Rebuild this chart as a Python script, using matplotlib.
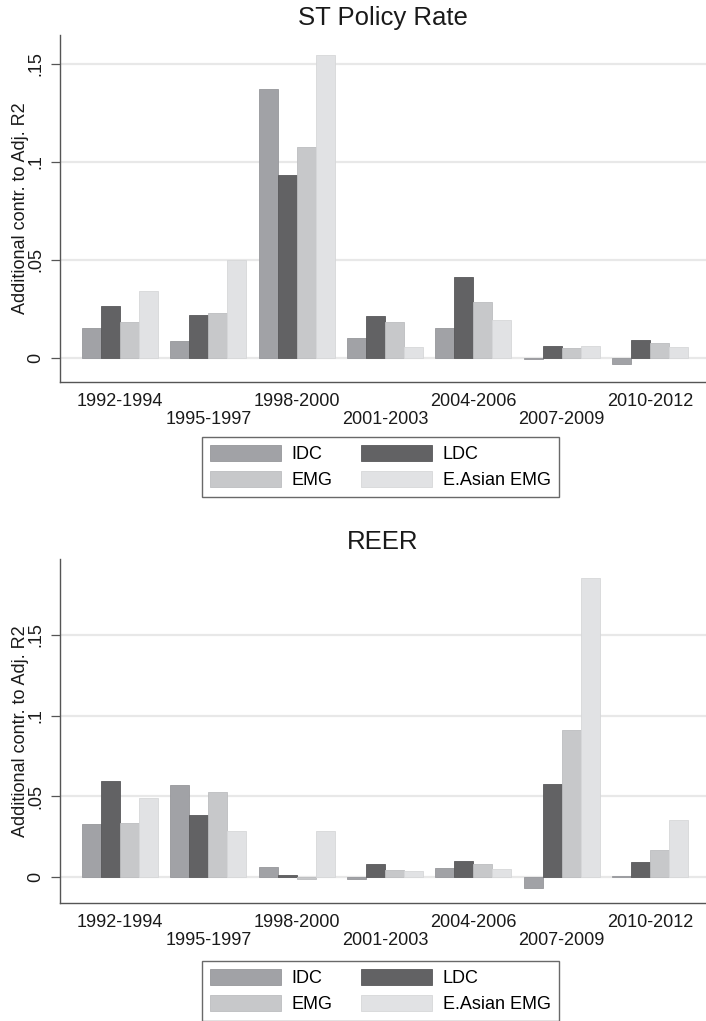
import numpy as np
import matplotlib
matplotlib.use("Agg")
from matplotlib import pyplot as plt

plt.rcParams['font.family'] = ['Liberation Sans', 'DejaVu Sans']

periods = ["1992-1994", "1995-1997", "1998-2000", "2001-2003",
           "2004-2006", "2007-2009", "2010-2012"]
groups = ["IDC", "LDC", "EMG", "E.Asian EMG"]
colors = ["#a1a2a6", "#626264", "#c7c8ca", "#e1e2e4"]
edges = ["#96979b", "#58585a", "#bcbdbf", "#d6d7d9"]

# ST Policy Rate panel
policy_idc = [0.0151, 0.0087, 0.1372, 0.0099, 0.0153, -0.0007, -0.0034]
policy_ldc = [0.0262, 0.0216, 0.0934, 0.0211, 0.0412, 0.0061, 0.0092]
policy_emg = [0.0184, 0.0226, 0.1075, 0.0184, 0.0282, 0.0049, 0.0075]
policy_ea = [0.0340, 0.0500, 0.1546, 0.0053, 0.0192, 0.0058, 0.0056]

# REER panel
reer_idc = [0.0329, 0.0570, 0.0062, -0.0014, 0.0058, -0.0066, 0.0006]
reer_ldc = [0.0593, 0.0384, 0.0010, 0.0083, 0.0097, 0.0574, 0.0093]
reer_emg = [0.0333, 0.0525, -0.0014, 0.0045, 0.0081, 0.0909, 0.0165]
reer_ea = [0.0490, 0.0287, 0.0285, 0.0039, 0.0050, 0.1853, 0.0351]

W, H = 706, 1021
fig = plt.figure(figsize=(W / 100, H / 100), dpi=100)


def panel(top_px, bottom_px, title, series, ylim, legend_top_px):
    ax = fig.add_axes([60 / W, 1 - bottom_px / H, (W - 60) / W, (bottom_px - top_px) / H])
    x = np.arange(len(periods))
    w = 0.2157
    for i, vals in enumerate(series):
        ax.bar(x + (i - 1.5) * w, vals, width=w, color=colors[i], edgecolor=edges[i],
               linewidth=0.6, label=groups[i], zorder=3)
    ax.set_xlim(-0.68, 6.634)
    ax.set_ylim(*ylim)
    ax.set_yticks([0, 0.05, 0.1, 0.15], ["0", ".05", ".1", ".15"])
    plt.setp(ax.get_yticklabels(), rotation=90, va='center')
    ax.grid(axis='y', color='#e8e8e8', linewidth=1.6, zorder=0)
    ax.set_axisbelow(True)
    ax.set_xticks(x[::2], periods[::2])
    ax.set_xticks(x[1::2], periods[1::2], minor=True)
    ax.tick_params(axis='x', which='both', length=0, labelsize=13, colors='#1a1a1a')
    ax.tick_params(axis='x', which='major', pad=8)
    ax.tick_params(axis='x', which='minor', pad=21)
    ax.tick_params(axis='y', length=6.5, width=0.9, color='#555555', labelsize=13,
                   labelcolor='#1a1a1a', pad=4.5)
    for s in ['top', 'right']:
        ax.spines[s].set_visible(False)
    for s in ['left', 'bottom']:
        ax.spines[s].set_color('#555555')
        ax.spines[s].set_linewidth(1.0)
    ax.set_ylabel("Additional contr. to Adj. R2", fontsize=13, color='#1a1a1a')
    ax.yaxis.set_label_coords(-0.048, 0.5)
    ax.set_title(title, fontsize=18.5, color='#1a1a1a', pad=7)
    handles, labels = ax.get_legend_handles_labels()
    # row-wise order: IDC LDC / EMG E.Asian EMG
    order = [0, 2, 1, 3]
    leg = fig.legend([handles[k] for k in order], [labels[k] for k in order],
                     ncol=2, loc='upper left',
                     bbox_to_anchor=(202 / W, 1 - legend_top_px / H),
                     fontsize=13, frameon=True, fancybox=False,
                     handlelength=3.9, handleheight=1.0, handletextpad=0.6,
                     columnspacing=1.6, labelspacing=0.4, borderpad=0.45,
                     borderaxespad=0)
    leg.get_frame().set_edgecolor('#444444')
    leg.get_frame().set_linewidth(1.0)
    return ax


panel(35, 382, "ST Policy Rate", [policy_idc, policy_ldc, policy_emg, policy_ea],
      (-0.0124, 0.1647), 437)
panel(559, 903, "REER", [reer_idc, reer_ldc, reer_emg, reer_ea],
      (-0.0161, 0.197), 961)

fig.savefig("out.png", dpi=100)
